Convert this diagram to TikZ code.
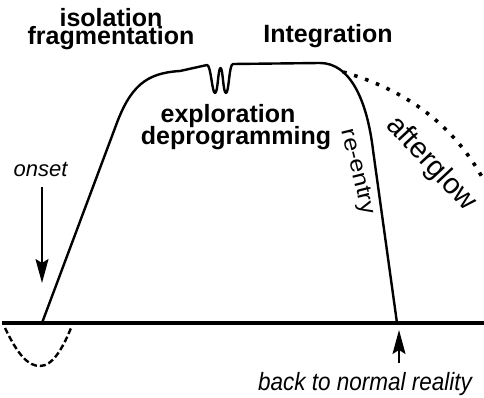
\documentclass[tikz,border=0pt]{standalone}
\usepackage{fontspec}
\setmainfont{Liberation Sans}
\newfontfamily\narrowfont[FakeStretch=0.9]{Liberation Sans}
\newfontfamily\widefont[FakeStretch=1.15]{Liberation Sans}
\usetikzlibrary{arrows.meta}
\tikzset{
  curveline/.style={line width=2.4pt, line cap=round, line join=round},
  baseline/.style={line width=3.4pt},
  boldlabel/.style={font=\fontsize{25}{25}\selectfont\bfseries, anchor=base, inner sep=0pt},
  itlabel/.style={font=\fontsize{22}{22}\selectfont\itshape, anchor=base, inner sep=0pt},
  pointer/.style={line width=1.4pt, -{Stealth[length=24pt, width=13pt, inset=4pt]}},
}
\begin{document}
\begin{tikzpicture}[x=1pt, y=-1pt]
\useasboundingbox (0,0) rectangle (484,398);
% baseline
\coordinate (bl) at (2,323);
\coordinate (br) at (484,323);
\draw[baseline] (bl) -- (br);
% main curve
\coordinate (start) at (42,323);
\coordinate (endpt) at (397,323);
\draw[curveline] (start) -- (115,128) .. controls (130,86) and (146,73) .. (180,71) -- (207,65)
  .. controls (211,65) and (212,93) .. (215,93)
  .. controls (218,93) and (218,68) .. (220.5,68)
  .. controls (223,68) and (223,93) .. (226,93)
  .. controls (229,93) and (229,64) .. (233,64)
  -- (320,63) .. controls (350,63) and (367,100) .. (373,150) -- (endpt);
% afterglow dotted
\draw[line width=3.6pt, dash pattern=on 3.6pt off 8pt] (343,72) .. controls (400,88) and (450,120) .. (482,177);
% dashed dip
\draw[line width=2.4pt, dash pattern=on 6pt off 3pt] (5,328) .. controls (18,355) and (28,366) .. (40,366) .. controls (52,366) and (62,350) .. (71,328);
% labels
\node[boldlabel] (isol) at (111,27) {isolation};
\node[boldlabel] (frag) at (111,45) {fragmentation};
\node[boldlabel] (integ) at (328,43) {Integration};
\node[boldlabel] (expl) at (228,123) {exploration};
\node[boldlabel] (deprog) at (236,145) {deprogramming};
\node[font=\fontsize{22}{22}\selectfont\widefont, rotate=-76, inner sep=0pt] (reentry) at (357,172) {re-entry};
\node[font=\fontsize{29}{29}\selectfont, rotate=-47, inner sep=0pt] (afterglow) at (431,164) {afterglow};
% onset
\node[itlabel] (onset) at (40.5,177) {onset};
\coordinate (onsetA) at (42,187);
\coordinate (onsetB) at (42,283);
\draw[pointer] (onsetA) -- (onsetB);
% back to normal
\node[font=\fontsize{25}{25}\selectfont\narrowfont\itshape, anchor=base, inner sep=0pt] (back) at (365,390) {back to normal reality};
\coordinate (backA) at (399,363);
\coordinate (backB) at (399,330);
\draw[pointer] (backA) -- (backB);
\end{tikzpicture}
\end{document}
